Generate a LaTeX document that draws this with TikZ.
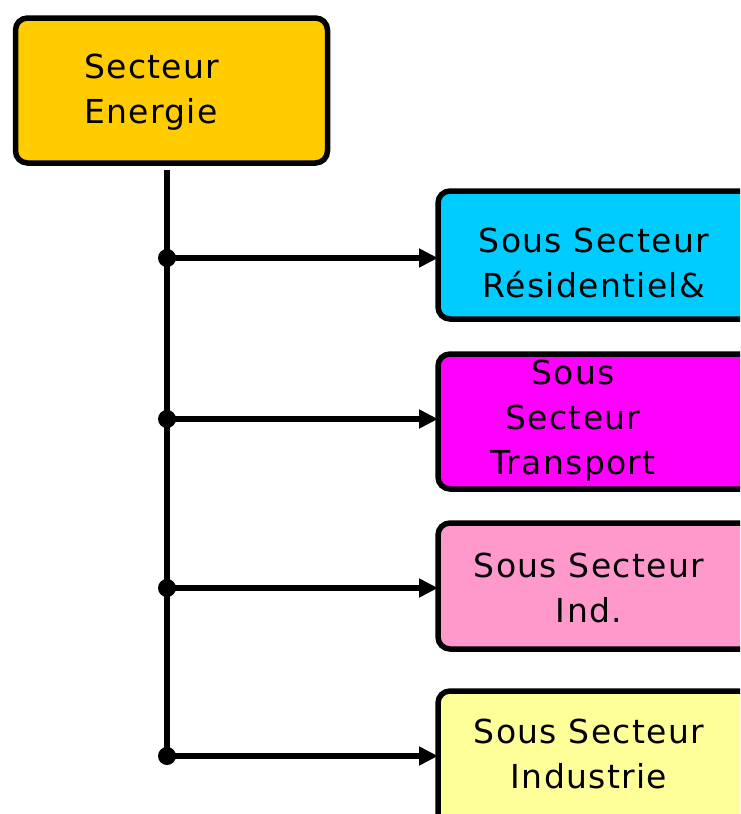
\documentclass[tikz,border=0pt]{standalone}
\usepackage{fontspec}
\setmainfont{DejaVu Sans}[LetterSpace=4]
\usetikzlibrary{arrows.meta}
\definecolor{cyel}{HTML}{FFCC00}
\definecolor{cblue}{HTML}{00CCFF}
\definecolor{cmag}{HTML}{FF00FF}
\definecolor{cpink}{HTML}{FF99CC}
\definecolor{clyel}{HTML}{FFFF99}
\begin{document}
\begin{tikzpicture}[x=1pt,y=-1pt,
  box/.style={draw=black,line width=5.5pt,rounded corners=12pt,outer sep=0pt,anchor=north west,inner sep=0pt},
  lbl/.style={font=\fontsize{33}{45}\selectfont,align=center,inner sep=0pt},
  conn/.style={line width=5.5pt,-{Triangle[length=19pt,width=18pt]}},
  dotn/.style={circle,fill=black,inner sep=0pt,minimum size=18pt}]
\useasboundingbox (0,0) rectangle (740,814);
\clip (0,0) rectangle (740,814);
\fill[white] (0,0) rectangle (740,814);
% boxes
\node[box,fill=cyel,minimum width=312pt,minimum height=145pt] (top) at (15.5,18) {};
\node[box,fill=cblue,minimum width=322pt,minimum height=128pt] (b1) at (438,191) {};
\node[box,fill=cmag,minimum width=322pt,minimum height=135pt] (b2) at (438,354) {};
\node[box,fill=cpink,minimum width=322pt,minimum height=126pt] (b3) at (438,523) {};
\node[box,fill=clyel,minimum width=322pt,minimum height=150pt] (b4) at (438,691) {};
% texts
\node[lbl,align=left,anchor=west] (ttop) at (84,92) {Secteur\\Energie};
\node[lbl] (t1) at (594,263) {Sous Secteur\\Résidentiel\&};
\node[lbl] (t2) at (573,421) {Sous\\Secteur\\Transport};
\node[lbl] (t3) at (589,588) {Sous Secteur\\Ind.};
\node[lbl] (t4) at (589,754) {Sous Secteur\\Industrie};
% trunk
\coordinate (vtop) at (167,170);
\coordinate (d1) at (167,258);
\coordinate (d2) at (167,419);
\coordinate (d3) at (167,588);
\coordinate (d4) at (167,756);
\draw[line width=5.5pt] (vtop) -- (d4);
\draw[conn] (d1) -- (d1 -| b1.west);
\draw[conn] (d2) -- (d2 -| b2.west);
\draw[conn] (d3) -- (d3 -| b3.west);
\draw[conn] (d4) -- (d4 -| b4.west);
\node[dotn] (p1) at (d1) {};
\node[dotn] (p2) at (d2) {};
\node[dotn] (p3) at (d3) {};
\node[dotn] (p4) at (d4) {};
\end{tikzpicture}
\end{document}
